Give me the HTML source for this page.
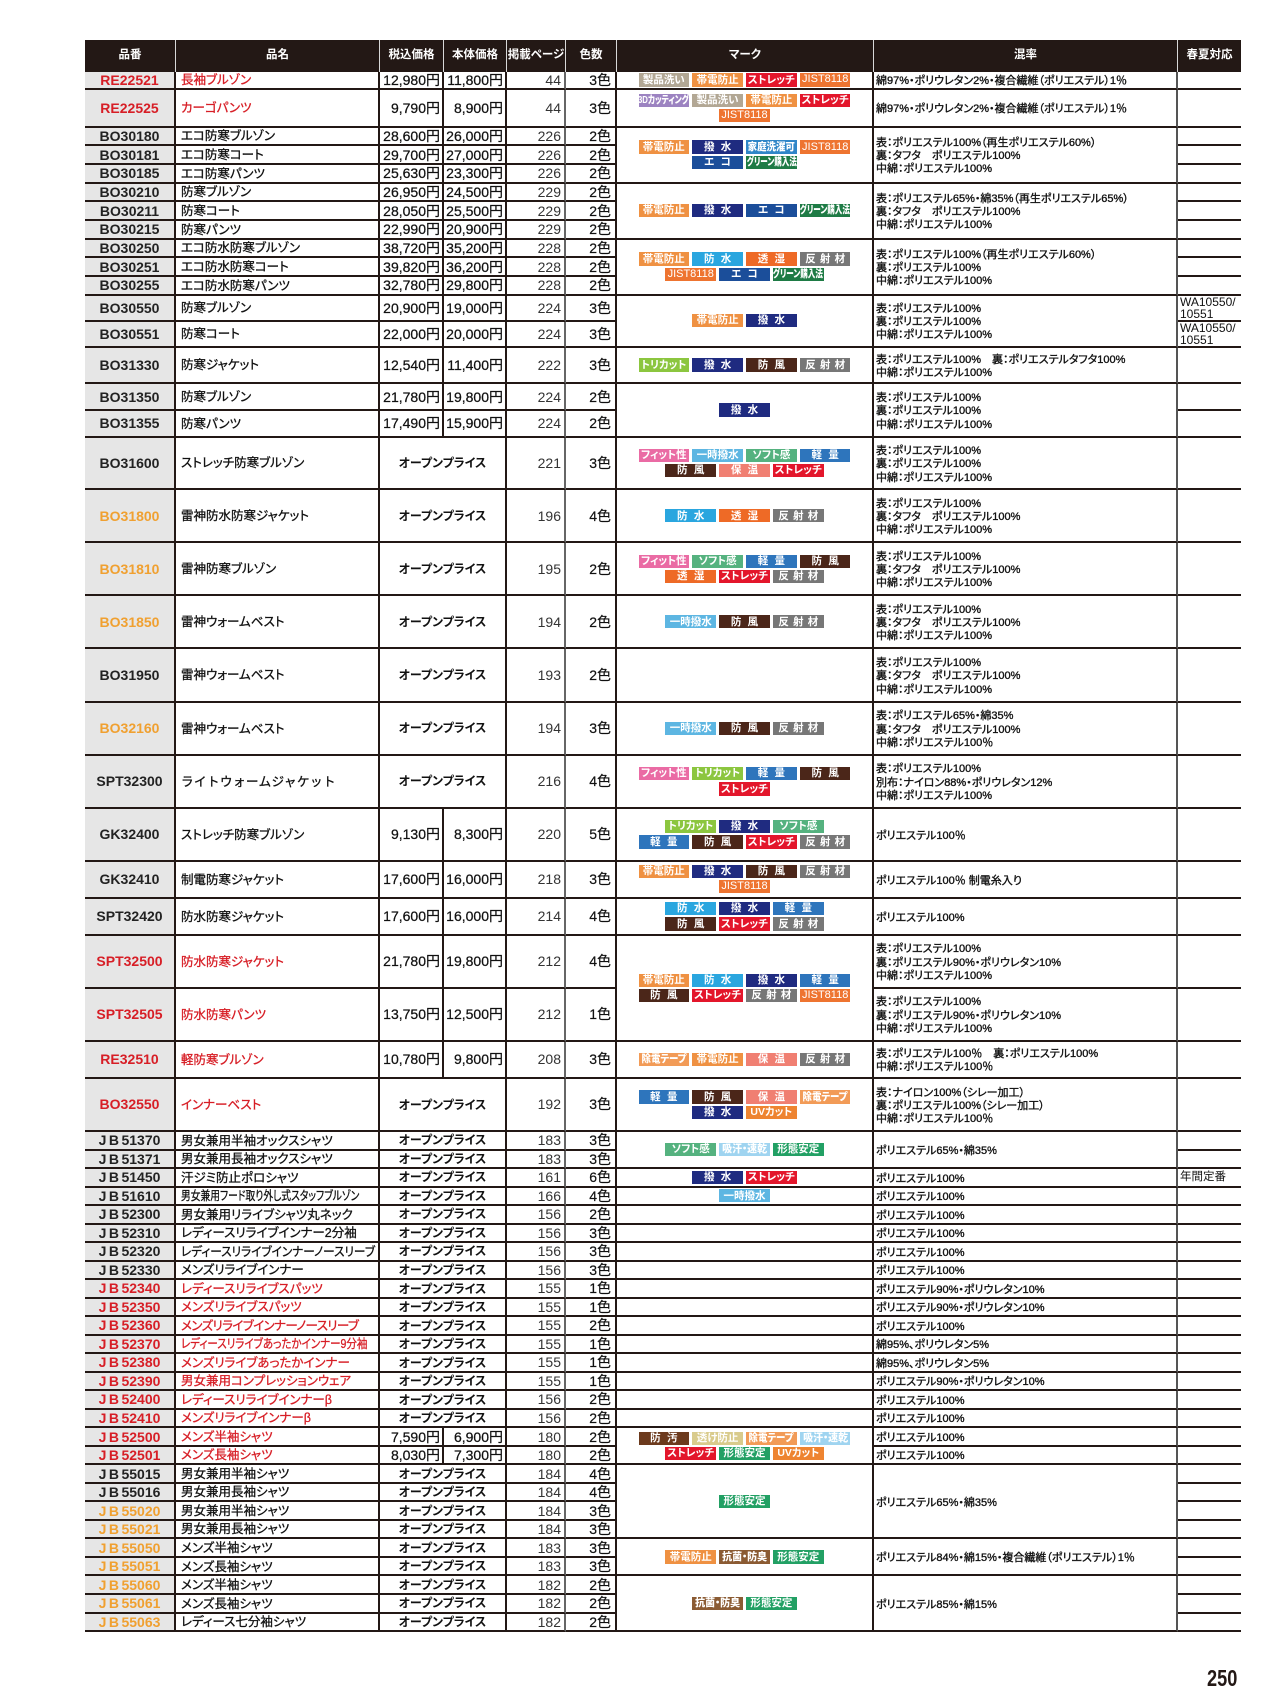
<!DOCTYPE html>
<html lang="ja"><head><meta charset="utf-8"><title>250</title><style>
*{margin:0;padding:0;box-sizing:border-box}
html,body{width:1280px;height:1707px;background:#fff;overflow:hidden}
body{position:relative;font-family:"Liberation Sans","Noto Sans CJK JP",sans-serif;color:#1a1a1a;line-height:1.15}
#t{position:absolute;left:85px;top:0;width:1156px;height:1640px}
#hd{position:absolute;left:0;top:39.7px;width:1156px;height:32px;background:#231815}
#hd div{position:absolute;top:0;height:32px;display:flex;align-items:center;justify-content:center;color:#fff;font-weight:bold;font-size:11.5px;font-feature-settings:"palt";border-right:1.5px solid #d8d8d8;white-space:nowrap}
.r{position:absolute;left:0;width:1156px}
.r>div,.x{position:absolute;display:flex;align-items:center;border-right:2px solid #231815;border-bottom:2px solid #231815;white-space:nowrap}
.r>div{top:0;bottom:0}
.a{left:0;width:91px;background:#e6e6e6;justify-content:center;font-weight:bold;font-size:14px;color:#222}
.b{left:91px;width:204px;padding-left:5px;padding-top:1px;font-size:12.5px;font-feature-settings:"palt";color:#111;-webkit-text-stroke:.3px currentColor}
.c{left:295px;width:64px;justify-content:flex-end;padding-right:2px;font-size:14px;color:#111;-webkit-text-stroke:.25px #111}
.d{left:359px;width:63px;justify-content:flex-end;padding-right:2px;font-size:14px;color:#111;-webkit-text-stroke:.25px #111}
.o{left:295px;width:127px;justify-content:center;padding-top:2px;font-weight:bold;font-size:12px;font-feature-settings:"palt";color:#111}
.e{left:422px;width:59px;justify-content:flex-end;padding-right:3px;font-size:14px;color:#333;border-right-color:#666!important}
.f{left:481px;width:51px;justify-content:flex-end;padding-right:4px;font-size:14px;color:#111;-webkit-text-stroke:.2px #111}
.M{left:532px;width:257px;flex-direction:column;justify-content:center;gap:2px}
.K{left:789px;width:304px;padding-left:2px;padding-top:4px;font-size:11px;line-height:13.3px;font-feature-settings:"palt";color:#111;-webkit-text-stroke:.35px #111;border-right-color:#555!important}
.i{left:1093px;width:63px;border-right:none!important;padding-left:2px;font-size:12px;line-height:12px;color:#111}
.R{color:#d71e26!important}
.Y{color:#f0a030!important}
.j{letter-spacing:2.5px}
.cn{letter-spacing:-.6px}
.sx{display:inline-block;transform-origin:0 50%}
.l{display:flex;gap:3.3px}
.q{display:flex;justify-content:center;align-items:center;width:50.5px;height:13.3px;color:#fff;font-style:normal;font-weight:bold;font-size:10.5px;line-height:1;font-feature-settings:"palt";white-space:nowrap;flex:none;overflow:hidden}
.q b{flex:none;display:block}
.w2{letter-spacing:.6em;padding-left:.6em}
.w3{letter-spacing:.4em;padding-left:.4em}
.j8{font-weight:normal;font-size:11px}
.s1{background:#b2a794}.s2{background:#ef9142}.s3{background:#e3162b}.s4{background:#ee7430}
.s5{background:#9c83c1}.s6{background:#1f2b80}.s7{background:#2f86c8}.s8{background:#1b4e9a}
.s9{background:#1e7b45}.sa{background:#2aa6df}.sb{background:#ee6a26}.sc{background:#777}
.sd{background:#8cc63f}.se{background:#4b2619}.sf{background:#ea6ba4}.sg{background:#5db6e2}
.sh{background:#55b27f}.si{background:#2e75bc}.sj{background:#f07f72}.sk{background:#f29b57}
.sl{background:#ee8431}.sm{background:#9fd4f0}.sn{background:#22a064}.so{background:#6c3a1d}
.sp{background:#d9cb8c}.sr{background:#8b5b33}
#pg{position:absolute;left:1207px;top:1667px;font:bold 23px/23px "Liberation Sans",sans-serif;transform:scaleX(.79);transform-origin:0 0;color:#231815}
</style></head><body>
<div id="t">
<div id="hd">
<div style="left:0;width:91px">品番</div>
<div style="left:91px;width:204px">品名</div>
<div style="left:295px;width:64px">税込価格</div>
<div style="left:359px;width:63px">本体価格</div>
<div style="left:422px;width:59px">掲載ページ</div>
<div style="left:481px;width:51px">色数</div>
<div style="left:532px;width:257px">マーク</div>
<div style="left:789px;width:304px">混率</div>
<div style="left:1093px;width:63px;border-right:none">春夏対応</div>
</div>

<div class="r" style="top:71.7px;height:18.6px"><div class="a R">RE22521</div><div class="b R">長袖ブルゾン</div><div class="c">12,980円</div><div class="d">11,800円</div><div class="e">44</div><div class="f">3色</div><div class="i"></div></div>
<div class="r" style="top:90.3px;height:37.4px"><div class="a R">RE22525</div><div class="b R">カーゴパンツ</div><div class="c">9,790円</div><div class="d">8,900円</div><div class="e">44</div><div class="f">3色</div><div class="i"></div></div>
<div class="r" style="top:127.7px;height:18.67px"><div class="a">BO30180</div><div class="b">エコ防寒ブルゾン</div><div class="c">28,600円</div><div class="d">26,000円</div><div class="e">226</div><div class="f">2色</div><div class="i"></div></div>
<div class="r" style="top:146.37px;height:18.67px"><div class="a">BO30181</div><div class="b">エコ防寒コート</div><div class="c">29,700円</div><div class="d">27,000円</div><div class="e">226</div><div class="f">2色</div><div class="i"></div></div>
<div class="r" style="top:165.03px;height:18.67px"><div class="a">BO30185</div><div class="b">エコ防寒パンツ</div><div class="c">25,630円</div><div class="d">23,300円</div><div class="e">226</div><div class="f">2色</div><div class="i"></div></div>
<div class="r" style="top:183.7px;height:18.67px"><div class="a">BO30210</div><div class="b">防寒ブルゾン</div><div class="c">26,950円</div><div class="d">24,500円</div><div class="e">229</div><div class="f">2色</div><div class="i"></div></div>
<div class="r" style="top:202.37px;height:18.67px"><div class="a">BO30211</div><div class="b">防寒コート</div><div class="c">28,050円</div><div class="d">25,500円</div><div class="e">229</div><div class="f">2色</div><div class="i"></div></div>
<div class="r" style="top:221.03px;height:18.67px"><div class="a">BO30215</div><div class="b">防寒パンツ</div><div class="c">22,990円</div><div class="d">20,900円</div><div class="e">229</div><div class="f">2色</div><div class="i"></div></div>
<div class="r" style="top:239.7px;height:18.67px"><div class="a">BO30250</div><div class="b">エコ防水防寒ブルゾン</div><div class="c">38,720円</div><div class="d">35,200円</div><div class="e">228</div><div class="f">2色</div><div class="i"></div></div>
<div class="r" style="top:258.37px;height:18.67px"><div class="a">BO30251</div><div class="b">エコ防水防寒コート</div><div class="c">39,820円</div><div class="d">36,200円</div><div class="e">228</div><div class="f">2色</div><div class="i"></div></div>
<div class="r" style="top:277.03px;height:18.67px"><div class="a">BO30255</div><div class="b">エコ防水防寒パンツ</div><div class="c">32,780円</div><div class="d">29,800円</div><div class="e">228</div><div class="f">2色</div><div class="i"></div></div>
<div class="r" style="top:295.7px;height:26px"><div class="a">BO30550</div><div class="b">防寒ブルゾン</div><div class="c">20,900円</div><div class="d">19,000円</div><div class="e">224</div><div class="f">3色</div><div class="i">WA10550/<br>10551</div></div>
<div class="r" style="top:321.7px;height:26px"><div class="a">BO30551</div><div class="b">防寒コート</div><div class="c">22,000円</div><div class="d">20,000円</div><div class="e">224</div><div class="f">3色</div><div class="i">WA10550/<br>10551</div></div>
<div class="r" style="top:347.7px;height:36.6px"><div class="a">BO31330</div><div class="b">防寒ジャケット</div><div class="c">12,540円</div><div class="d">11,400円</div><div class="e">222</div><div class="f">3色</div><div class="i"></div></div>
<div class="r" style="top:384.3px;height:26.7px"><div class="a">BO31350</div><div class="b">防寒ブルゾン</div><div class="c">21,780円</div><div class="d">19,800円</div><div class="e">224</div><div class="f">2色</div><div class="i"></div></div>
<div class="r" style="top:411px;height:26.7px"><div class="a">BO31355</div><div class="b">防寒パンツ</div><div class="c">17,490円</div><div class="d">15,900円</div><div class="e">224</div><div class="f">2色</div><div class="i"></div></div>
<div class="r" style="top:437.7px;height:52.6px"><div class="a">BO31600</div><div class="b">ストレッチ防寒ブルゾン</div><div class="o">オープンプライス</div><div class="e">221</div><div class="f">3色</div><div class="i"></div></div>
<div class="r" style="top:490.3px;height:53px"><div class="a Y">BO31800</div><div class="b">雷神防水防寒ジャケット</div><div class="o">オープンプライス</div><div class="e">196</div><div class="f">4色</div><div class="i"></div></div>
<div class="r" style="top:543.3px;height:53px"><div class="a Y">BO31810</div><div class="b">雷神防寒ブルゾン</div><div class="o">オープンプライス</div><div class="e">195</div><div class="f">2色</div><div class="i"></div></div>
<div class="r" style="top:596.3px;height:53px"><div class="a Y">BO31850</div><div class="b">雷神ウォームベスト</div><div class="o">オープンプライス</div><div class="e">194</div><div class="f">2色</div><div class="i"></div></div>
<div class="r" style="top:649.3px;height:53.4px"><div class="a">BO31950</div><div class="b">雷神ウォームベスト</div><div class="o">オープンプライス</div><div class="e">193</div><div class="f">2色</div><div class="i"></div></div>
<div class="r" style="top:702.7px;height:53px"><div class="a Y">BO32160</div><div class="b">雷神ウォームベスト</div><div class="o">オープンプライス</div><div class="e">194</div><div class="f">3色</div><div class="i"></div></div>
<div class="r" style="top:755.7px;height:53.3px"><div class="a">SPT32300</div><div class="b" style="font-feature-settings:normal;letter-spacing:.5px">ライトウォームジャケット</div><div class="o">オープンプライス</div><div class="e">216</div><div class="f">4色</div><div class="i"></div></div>
<div class="r" style="top:809px;height:52.7px"><div class="a">GK32400</div><div class="b">ストレッチ防寒ブルゾン</div><div class="c">9,130円</div><div class="d">8,300円</div><div class="e">220</div><div class="f">5色</div><div class="i"></div></div>
<div class="r" style="top:861.7px;height:37px"><div class="a">GK32410</div><div class="b">制電防寒ジャケット</div><div class="c">17,600円</div><div class="d">16,000円</div><div class="e">218</div><div class="f">3色</div><div class="i"></div></div>
<div class="r" style="top:898.7px;height:37.3px"><div class="a">SPT32420</div><div class="b">防水防寒ジャケット</div><div class="c">17,600円</div><div class="d">16,000円</div><div class="e">214</div><div class="f">4色</div><div class="i"></div></div>
<div class="r" style="top:936px;height:52.7px"><div class="a R">SPT32500</div><div class="b R">防水防寒ジャケット</div><div class="c">21,780円</div><div class="d">19,800円</div><div class="e">212</div><div class="f">4色</div><div class="i"></div></div>
<div class="r" style="top:988.7px;height:53px"><div class="a R">SPT32505</div><div class="b R">防水防寒パンツ</div><div class="c">13,750円</div><div class="d">12,500円</div><div class="e">212</div><div class="f">1色</div><div class="i"></div></div>
<div class="r" style="top:1041.7px;height:37.3px"><div class="a R">RE32510</div><div class="b R">軽防寒ブルゾン</div><div class="c">10,780円</div><div class="d">9,800円</div><div class="e">208</div><div class="f">3色</div><div class="i"></div></div>
<div class="r" style="top:1079px;height:53px"><div class="a R">BO32550</div><div class="b R">インナーベスト</div><div class="o">オープンプライス</div><div class="e">192</div><div class="f">3色</div><div class="i"></div></div>

<div class="r" style="top:1132px;height:18.52px"><div class="a"><span class="j">JB</span>51370</div><div class="b">男女兼用半袖オックスシャツ</div><div class="o">オープンプライス</div><div class="e">183</div><div class="f">3色</div><div class="i"></div></div>
<div class="r" style="top:1150.52px;height:18.52px"><div class="a"><span class="j">JB</span>51371</div><div class="b">男女兼用長袖オックスシャツ</div><div class="o">オープンプライス</div><div class="e">183</div><div class="f">3色</div><div class="i"></div></div>
<div class="r" style="top:1169.04px;height:18.52px"><div class="a"><span class="j">JB</span>51450</div><div class="b">汗ジミ防止ポロシャツ</div><div class="o">オープンプライス</div><div class="e">161</div><div class="f">6色</div><div class="M"><div class="l"><i class="q s6 w2">撥水</i><i class="q s3">ストレッチ</i></div></div><div class="K">ポリエステル100%</div><div class="i" style="font-size:11.5px">年間定番</div></div>
<div class="r" style="top:1187.56px;height:18.52px"><div class="a"><span class="j">JB</span>51610</div><div class="b"><span class="sx" style="transform:scaleX(.78)">男女兼用フード取り外し式スタッフブルゾン</span></div><div class="o">オープンプライス</div><div class="e">166</div><div class="f">4色</div><div class="M"><div class="l"><i class="q sg">一時撥水</i></div></div><div class="K">ポリエステル100%</div><div class="i"></div></div>
<div class="r" style="top:1206.08px;height:18.52px"><div class="a"><span class="j">JB</span>52300</div><div class="b">男女兼用リライブシャツ丸ネック</div><div class="o">オープンプライス</div><div class="e">156</div><div class="f">2色</div><div class="M"></div><div class="K">ポリエステル100%</div><div class="i"></div></div>
<div class="r" style="top:1224.6px;height:18.52px"><div class="a"><span class="j">JB</span>52310</div><div class="b">レディースリライブインナー2分袖</div><div class="o">オープンプライス</div><div class="e">156</div><div class="f">3色</div><div class="M"></div><div class="K">ポリエステル100%</div><div class="i"></div></div>
<div class="r" style="top:1243.12px;height:18.52px"><div class="a"><span class="j">JB</span>52320</div><div class="b"><span class="sx" style="transform:scaleX(.93)">レディースリライブインナーノースリーブ</span></div><div class="o">オープンプライス</div><div class="e">156</div><div class="f">3色</div><div class="M"></div><div class="K">ポリエステル100%</div><div class="i"></div></div>
<div class="r" style="top:1261.64px;height:18.52px"><div class="a"><span class="j">JB</span>52330</div><div class="b">メンズリライブインナー</div><div class="o">オープンプライス</div><div class="e">156</div><div class="f">3色</div><div class="M"></div><div class="K">ポリエステル100%</div><div class="i"></div></div>
<div class="r" style="top:1280.16px;height:18.52px"><div class="a R"><span class="j">JB</span>52340</div><div class="b R">レディースリライブスパッツ</div><div class="o">オープンプライス</div><div class="e">155</div><div class="f">1色</div><div class="M"></div><div class="K">ポリエステル90%・ポリウレタン10%</div><div class="i"></div></div>
<div class="r" style="top:1298.68px;height:18.52px"><div class="a R"><span class="j">JB</span>52350</div><div class="b R">メンズリライブスパッツ</div><div class="o">オープンプライス</div><div class="e">155</div><div class="f">1色</div><div class="M"></div><div class="K">ポリエステル90%・ポリウレタン10%</div><div class="i"></div></div>
<div class="r" style="top:1317.2px;height:18.52px"><div class="a R"><span class="j">JB</span>52360</div><div class="b R cn">メンズリライブインナーノースリーブ</div><div class="o">オープンプライス</div><div class="e">155</div><div class="f">2色</div><div class="M"></div><div class="K">ポリエステル100%</div><div class="i"></div></div>
<div class="r" style="top:1335.72px;height:18.52px"><div class="a R"><span class="j">JB</span>52370</div><div class="b R"><span class="sx" style="transform:scaleX(.84)">レディースリライブあったかインナー9分袖</span></div><div class="o">オープンプライス</div><div class="e">155</div><div class="f">1色</div><div class="M"></div><div class="K">綿95%、ポリウレタン5%</div><div class="i"></div></div>
<div class="r" style="top:1354.24px;height:18.52px"><div class="a R"><span class="j">JB</span>52380</div><div class="b R">メンズリライブあったかインナー</div><div class="o">オープンプライス</div><div class="e">155</div><div class="f">1色</div><div class="M"></div><div class="K">綿95%、ポリウレタン5%</div><div class="i"></div></div>
<div class="r" style="top:1372.76px;height:18.52px"><div class="a R"><span class="j">JB</span>52390</div><div class="b R">男女兼用コンプレッションウェア</div><div class="o">オープンプライス</div><div class="e">155</div><div class="f">1色</div><div class="M"></div><div class="K">ポリエステル90%・ポリウレタン10%</div><div class="i"></div></div>
<div class="r" style="top:1391.28px;height:18.52px"><div class="a R"><span class="j">JB</span>52400</div><div class="b R">レディースリライブインナーβ</div><div class="o">オープンプライス</div><div class="e">156</div><div class="f">2色</div><div class="M"></div><div class="K">ポリエステル100%</div><div class="i"></div></div>
<div class="r" style="top:1409.8px;height:18.52px"><div class="a R"><span class="j">JB</span>52410</div><div class="b R">メンズリライブインナーβ</div><div class="o">オープンプライス</div><div class="e">156</div><div class="f">2色</div><div class="M"></div><div class="K">ポリエステル100%</div><div class="i"></div></div>
<div class="r" style="top:1428.32px;height:18.52px"><div class="a R"><span class="j">JB</span>52500</div><div class="b R">メンズ半袖シャツ</div><div class="c">7,590円</div><div class="d">6,900円</div><div class="e">180</div><div class="f">2色</div><div class="K">ポリエステル100%</div><div class="i"></div></div>
<div class="r" style="top:1446.84px;height:18.52px"><div class="a R"><span class="j">JB</span>52501</div><div class="b R">メンズ長袖シャツ</div><div class="c">8,030円</div><div class="d">7,300円</div><div class="e">180</div><div class="f">2色</div><div class="K">ポリエステル100%</div><div class="i"></div></div>
<div class="r" style="top:1465.36px;height:18.52px"><div class="a"><span class="j">JB</span>55015</div><div class="b">男女兼用半袖シャツ</div><div class="o">オープンプライス</div><div class="e">184</div><div class="f">4色</div><div class="i"></div></div>
<div class="r" style="top:1483.88px;height:18.52px"><div class="a"><span class="j">JB</span>55016</div><div class="b">男女兼用長袖シャツ</div><div class="o">オープンプライス</div><div class="e">184</div><div class="f">4色</div><div class="i"></div></div>
<div class="r" style="top:1502.4px;height:18.52px"><div class="a Y"><span class="j">JB</span>55020</div><div class="b">男女兼用半袖シャツ</div><div class="o">オープンプライス</div><div class="e">184</div><div class="f">3色</div><div class="i"></div></div>
<div class="r" style="top:1520.92px;height:18.52px"><div class="a Y"><span class="j">JB</span>55021</div><div class="b">男女兼用長袖シャツ</div><div class="o">オープンプライス</div><div class="e">184</div><div class="f">3色</div><div class="i"></div></div>
<div class="r" style="top:1539.44px;height:18.52px"><div class="a Y"><span class="j">JB</span>55050</div><div class="b">メンズ半袖シャツ</div><div class="o">オープンプライス</div><div class="e">183</div><div class="f">3色</div><div class="i"></div></div>
<div class="r" style="top:1557.96px;height:18.52px"><div class="a Y"><span class="j">JB</span>55051</div><div class="b">メンズ長袖シャツ</div><div class="o">オープンプライス</div><div class="e">183</div><div class="f">3色</div><div class="i"></div></div>
<div class="r" style="top:1576.48px;height:18.52px"><div class="a Y"><span class="j">JB</span>55060</div><div class="b">メンズ半袖シャツ</div><div class="o">オープンプライス</div><div class="e">182</div><div class="f">2色</div><div class="i"></div></div>
<div class="r" style="top:1595px;height:18.52px"><div class="a Y"><span class="j">JB</span>55061</div><div class="b">メンズ長袖シャツ</div><div class="o">オープンプライス</div><div class="e">182</div><div class="f">2色</div><div class="i"></div></div>
<div class="r" style="top:1613.52px;height:18.52px"><div class="a Y"><span class="j">JB</span>55063</div><div class="b">レディース七分袖シャツ</div><div class="o">オープンプライス</div><div class="e">182</div><div class="f">2色</div><div class="i"></div></div>

<div class="x M" style="top:71.7px;height:18.6px"><div class="l"><i class="q s1">製品洗い</i><i class="q s2">帯電防止</i><i class="q s3">ストレッチ</i><i class="q s4 j8">JIST8118</i></div></div>
<div class="x M" style="top:90.3px;height:37.4px"><div class="l"><i class="q s5"><b style="transform:scaleX(.74)">3Dカッティング</b></i><i class="q s1">製品洗い</i><i class="q s2">帯電防止</i><i class="q s3">ストレッチ</i></div><div class="l"><i class="q s4 j8">JIST8118</i></div></div>
<div class="x M" style="top:127.7px;height:56px"><div class="l"><i class="q s2">帯電防止</i><i class="q s6 w2">撥水</i><i class="q s7"><b style="transform:scaleX(.9)">家庭洗濯可</b></i><i class="q s4 j8">JIST8118</i></div><div class="l"><i class="q s8 w2">エコ</i><i class="q s9"><b style="transform:scaleX(.72)">グリーン購入法</b></i></div></div>
<div class="x M" style="top:183.7px;height:56px"><div class="l"><i class="q s2">帯電防止</i><i class="q s6 w2">撥水</i><i class="q s8 w2">エコ</i><i class="q s9"><b style="transform:scaleX(.72)">グリーン購入法</b></i></div></div>
<div class="x M" style="top:239.7px;height:56px"><div class="l"><i class="q s2">帯電防止</i><i class="q sa w2">防水</i><i class="q sb w2">透湿</i><i class="q sc w3">反射材</i></div><div class="l"><i class="q s4 j8">JIST8118</i><i class="q s8 w2">エコ</i><i class="q s9"><b style="transform:scaleX(.72)">グリーン購入法</b></i></div></div>
<div class="x M" style="top:295.7px;height:52px"><div class="l"><i class="q s2">帯電防止</i><i class="q s6 w2">撥水</i></div></div>
<div class="x M" style="top:347.7px;height:36.6px"><div class="l"><i class="q sd">トリカット</i><i class="q s6 w2">撥水</i><i class="q se w2">防風</i><i class="q sc w3">反射材</i></div></div>
<div class="x M" style="top:384.3px;height:53.4px"><div class="l"><i class="q s6 w2">撥水</i></div></div>
<div class="x M" style="top:437.7px;height:52.6px"><div class="l"><i class="q sf">フィット性</i><i class="q sg">一時撥水</i><i class="q sh">ソフト感</i><i class="q si w2">軽量</i></div><div class="l"><i class="q se w2">防風</i><i class="q sj w2">保温</i><i class="q s3">ストレッチ</i></div></div>
<div class="x M" style="top:490.3px;height:53px"><div class="l"><i class="q sa w2">防水</i><i class="q sb w2">透湿</i><i class="q sc w3">反射材</i></div></div>
<div class="x M" style="top:543.3px;height:53px"><div class="l"><i class="q sf">フィット性</i><i class="q sh">ソフト感</i><i class="q si w2">軽量</i><i class="q se w2">防風</i></div><div class="l"><i class="q sb w2">透湿</i><i class="q s3">ストレッチ</i><i class="q sc w3">反射材</i></div></div>
<div class="x M" style="top:596.3px;height:53px"><div class="l"><i class="q sg">一時撥水</i><i class="q se w2">防風</i><i class="q sc w3">反射材</i></div></div>
<div class="x M" style="top:649.3px;height:53.4px"></div>
<div class="x M" style="top:702.7px;height:53px"><div class="l"><i class="q sg">一時撥水</i><i class="q se w2">防風</i><i class="q sc w3">反射材</i></div></div>
<div class="x M" style="top:755.7px;height:53.3px"><div class="l"><i class="q sf">フィット性</i><i class="q sd">トリカット</i><i class="q si w2">軽量</i><i class="q se w2">防風</i></div><div class="l"><i class="q s3">ストレッチ</i></div></div>
<div class="x M" style="top:809px;height:52.7px"><div class="l"><i class="q sd">トリカット</i><i class="q s6 w2">撥水</i><i class="q sh">ソフト感</i></div><div class="l"><i class="q si w2">軽量</i><i class="q se w2">防風</i><i class="q s3">ストレッチ</i><i class="q sc w3">反射材</i></div></div>
<div class="x M" style="top:861.7px;height:37px"><div class="l"><i class="q s2">帯電防止</i><i class="q s6 w2">撥水</i><i class="q se w2">防風</i><i class="q sc w3">反射材</i></div><div class="l"><i class="q s4 j8">JIST8118</i></div></div>
<div class="x M" style="top:898.7px;height:37.3px"><div class="l"><i class="q sa w2">防水</i><i class="q s6 w2">撥水</i><i class="q si w2">軽量</i></div><div class="l"><i class="q se w2">防風</i><i class="q s3">ストレッチ</i><i class="q sc w3">反射材</i></div></div>
<div class="x M" style="top:936px;height:105.7px"><div class="l"><i class="q s2">帯電防止</i><i class="q sa w2">防水</i><i class="q s6 w2">撥水</i><i class="q si w2">軽量</i></div><div class="l"><i class="q se w2">防風</i><i class="q s3">ストレッチ</i><i class="q sc w3">反射材</i><i class="q s4 j8">JIST8118</i></div></div>
<div class="x M" style="top:1041.7px;height:37.3px"><div class="l"><i class="q sk"><b style="transform:scaleX(.9)">除電テープ</b></i><i class="q s2">帯電防止</i><i class="q sj w2">保温</i><i class="q sc w3">反射材</i></div></div>
<div class="x M" style="top:1079px;height:53px"><div class="l"><i class="q si w2">軽量</i><i class="q se w2">防風</i><i class="q sj w2">保温</i><i class="q sk"><b style="transform:scaleX(.9)">除電テープ</b></i></div><div class="l"><i class="q s6 w2">撥水</i><i class="q sl">UVカット</i></div></div>
<div class="x M" style="top:1132px;height:37.04px"><div class="l"><i class="q sh">ソフト感</i><i class="q sm"><b style="transform:scaleX(.95)">吸汗・速乾</b></i><i class="q sn">形態安定</i></div></div>
<div class="x M" style="top:1428.32px;height:37.04px"><div class="l"><i class="q so w2">防汚</i><i class="q sp">透け防止</i><i class="q sk"><b style="transform:scaleX(.9)">除電テープ</b></i><i class="q sm"><b style="transform:scaleX(.95)">吸汗・速乾</b></i></div><div class="l"><i class="q s3">ストレッチ</i><i class="q sn">形態安定</i><i class="q sl">UVカット</i></div></div>
<div class="x M" style="top:1465.36px;height:74.08px"><div class="l"><i class="q sn">形態安定</i></div></div>
<div class="x M" style="top:1539.44px;height:37.04px"><div class="l"><i class="q s2">帯電防止</i><i class="q sr"><b style="transform:scaleX(.95)">抗菌・防臭</b></i><i class="q sn">形態安定</i></div></div>
<div class="x M" style="top:1576.48px;height:55.56px"><div class="l"><i class="q sr"><b style="transform:scaleX(.95)">抗菌・防臭</b></i><i class="q sn">形態安定</i></div></div>

<div class="x K" style="top:71.7px;height:18.6px"><p>綿97%・ポリウレタン2%・複合繊維（ポリエステル）1％</p></div>
<div class="x K" style="top:90.3px;height:37.4px"><p>綿97%・ポリウレタン2%・複合繊維（ポリエステル）1％</p></div>
<div class="x K" style="top:127.7px;height:56px"><p>表：ポリエステル100%（再生ポリエステル60%）<br>裏：タフタ　ポリエステル100%<br>中綿：ポリエステル100%</p></div>
<div class="x K" style="top:183.7px;height:56px"><p>表：ポリエステル65%・綿35%（再生ポリエステル65%）<br>裏：タフタ　ポリエステル100%<br>中綿：ポリエステル100%</p></div>
<div class="x K" style="top:239.7px;height:56px"><p>表：ポリエステル100%（再生ポリエステル60%）<br>裏：ポリエステル100%<br>中綿：ポリエステル100%</p></div>
<div class="x K" style="top:295.7px;height:52px"><p>表：ポリエステル100%<br>裏：ポリエステル100%<br>中綿：ポリエステル100%</p></div>
<div class="x K" style="top:347.7px;height:36.6px"><p>表：ポリエステル100%　裏：ポリエステルタフタ100%<br>中綿：ポリエステル100%</p></div>
<div class="x K" style="top:384.3px;height:53.4px"><p>表：ポリエステル100%<br>裏：ポリエステル100%<br>中綿：ポリエステル100%</p></div>
<div class="x K" style="top:437.7px;height:52.6px"><p>表：ポリエステル100%<br>裏：ポリエステル100%<br>中綿：ポリエステル100%</p></div>
<div class="x K" style="top:490.3px;height:53px"><p>表：ポリエステル100%<br>裏：タフタ　ポリエステル100%<br>中綿：ポリエステル100%</p></div>
<div class="x K" style="top:543.3px;height:53px"><p>表：ポリエステル100%<br>裏：タフタ　ポリエステル100%<br>中綿：ポリエステル100%</p></div>
<div class="x K" style="top:596.3px;height:53px"><p>表：ポリエステル100%<br>裏：タフタ　ポリエステル100%<br>中綿：ポリエステル100%</p></div>
<div class="x K" style="top:649.3px;height:53.4px"><p>表：ポリエステル100%<br>裏：タフタ　ポリエステル100%<br>中綿：ポリエステル100%</p></div>
<div class="x K" style="top:702.7px;height:53px"><p>表：ポリエステル65%・綿35%<br>裏：タフタ　ポリエステル100%<br>中綿：ポリエステル100％</p></div>
<div class="x K" style="top:755.7px;height:53.3px"><p>表：ポリエステル100%<br>別布：ナイロン88%・ポリウレタン12%<br>中綿：ポリエステル100%</p></div>
<div class="x K" style="top:809px;height:52.7px"><p>ポリエステル100％</p></div>
<div class="x K" style="top:861.7px;height:37px"><p>ポリエステル100％ 制電糸入り</p></div>
<div class="x K" style="top:898.7px;height:37.3px"><p>ポリエステル100%</p></div>
<div class="x K" style="top:936px;height:52.7px"><p>表：ポリエステル100%<br>裏：ポリエステル90%・ポリウレタン10%<br>中綿：ポリエステル100%</p></div>
<div class="x K" style="top:988.7px;height:53px"><p>表：ポリエステル100%<br>裏：ポリエステル90%・ポリウレタン10%<br>中綿：ポリエステル100%</p></div>
<div class="x K" style="top:1041.7px;height:37.3px"><p>表：ポリエステル100％　裏：ポリエステル100%<br>中綿：ポリエステル100％</p></div>
<div class="x K" style="top:1079px;height:53px"><p>表：ナイロン100%（シレー加工）<br>裏：ポリエステル100%（シレー加工）<br>中綿：ポリエステル100％</p></div>
<div class="x K" style="top:1132px;height:37.04px"><p>ポリエステル65%・綿35%</p></div>
<div class="x K" style="top:1465.36px;height:74.08px"><p>ポリエステル65%・綿35%</p></div>
<div class="x K" style="top:1539.44px;height:37.04px"><p>ポリエステル84%・綿15%・複合繊維（ポリエステル）1％</p></div>
<div class="x K" style="top:1576.48px;height:55.56px"><p>ポリエステル85%・綿15%</p></div>
</div>
<div id="pg">250</div>
</body></html>
